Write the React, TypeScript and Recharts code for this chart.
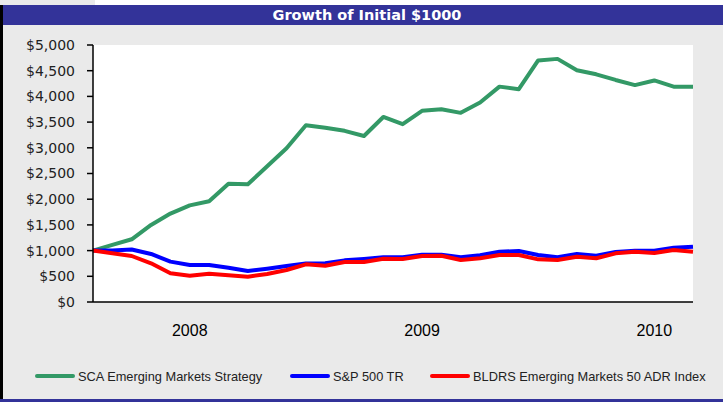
import React from 'react';
import { LineChart, Line, XAxis, YAxis, CartesianGrid } from 'recharts';

// monthly points, Aug 2007 .. Mar 2010
const months = [
  '2007-08', '2007-09', '2007-10', '2007-11', '2007-12',
  '2008-01', '2008-02', '2008-03', '2008-04', '2008-05', '2008-06',
  '2008-07', '2008-08', '2008-09', '2008-10', '2008-11', '2008-12',
  '2009-01', '2009-02', '2009-03', '2009-04', '2009-05', '2009-06',
  '2009-07', '2009-08', '2009-09', '2009-10', '2009-11', '2009-12',
  '2010-01', '2010-02', '2010-03',
];

const scaStrategy = [
  1000, 1110, 1220, 1500, 1720, 1880, 1960, 2300, 2290, 2640, 2990,
  3440, 3390, 3330, 3230, 3600, 3460, 3720, 3750, 3680, 3880, 4190,
  4140, 4700, 4730, 4510, 4430, 4320, 4220, 4310, 4190, 4190,
];

const sp500 = [
  1000, 1000, 1020, 935, 785, 720, 720, 668, 603, 648, 700,
  750, 752, 810, 836, 869, 869, 920, 920, 869, 908, 979,
  992, 914, 869, 934, 901, 973, 998, 998, 1056, 1076,
];

const bldrs = [
  1000, 947, 895, 752, 558, 512, 551, 519, 492, 545, 622,
  733, 706, 778, 778, 843, 835, 895, 901, 817, 850, 914,
  914, 830, 817, 882, 850, 947, 979, 953, 1012, 979,
];

const yearTicks = ['2008-01', '2009-01', '2010-01'];
const valueTicks = [0, 500, 1000, 1500, 2000, 2500, 3000, 3500, 4000, 4500, 5000];

const seriesNames = ['SCA Emerging Markets Strategy', 'S&P 500 TR', 'BLDRS Emerging Markets 50 ADR Index'];
const seriesColors = ['#339966', '#0000FF', '#FF0000'];

const data = months.map((m, i) => ({
  month: m,
  sca: scaStrategy[i],
  sp: sp500[i],
  bldrs: bldrs[i],
}));

const sans = '"Liberation Sans", Arial, sans-serif';
const verdana = '"DejaVu Sans", Verdana, sans-serif';

const formatDollar = (v: number) => `$${v.toLocaleString('en-US')}`;

export default function App() {
  const legendLefts = [35, 290, 430];
  return (
    <div style={{ position: 'absolute', left: 0, top: 0, width: 723, height: 402, background: '#fff', overflow: 'hidden' }}>
      {/* gray panel */}
      <div style={{ position: 'absolute', left: 0, top: 5, width: 723, height: 397, background: '#EAEAEA' }} />
      <div style={{ position: 'absolute', left: 0, top: 0, width: 95, height: 5, background: '#EAEAEA' }} />
      {/* left border + bottom line */}
      <div style={{ position: 'absolute', left: 0, top: 5, width: 3, height: 396, background: '#000' }} />
      <div style={{ position: 'absolute', left: 0, top: 399, width: 723, height: 3, background: '#333399' }} />
      {/* title bar */}
      <div style={{
        position: 'absolute', left: 3, top: 5, width: 720, height: 20, background: '#333399',
        color: '#fff', fontFamily: verdana, fontWeight: 'bold', fontSize: 14.5, lineHeight: '20px',
        textAlign: 'center', boxSizing: 'border-box', paddingLeft: 8,
      }}>
        Growth of Initial $1000
      </div>

      <div style={{ position: 'absolute', left: 0, top: 0 }}>
        <LineChart width={723} height={402} data={data} margin={{ top: 45, right: 30, left: 0, bottom: 60 }}>
          <CartesianGrid fill="#fff" horizontal={false} vertical={false} />
          <XAxis
            dataKey="month"
            ticks={yearTicks}
            interval={0}
            tickFormatter={(v: string) => v.slice(0, 4)}
            tickLine={false}
            axisLine={{ stroke: '#000', strokeWidth: 1.5 }}
            tick={{ fill: '#000', fontSize: 16, fontFamily: sans }}
            tickMargin={17}
            height={40}
          />
          <XAxis xAxisId="top" dataKey="month" orientation="top" height={0} tick={false} tickLine={false}
            axisLine={{ stroke: '#888', strokeWidth: 2 }} />
          <YAxis
            domain={[0, 5000]}
            ticks={valueTicks}
            interval={0}
            tickFormatter={formatDollar}
            width={93}
            tickSize={6}
            tickMargin={12}
            axisLine={{ stroke: '#000', strokeWidth: 1.5 }}
            tickLine={{ stroke: '#000', strokeWidth: 1.5 }}
            tick={{ fill: '#222', fontSize: 14, fontFamily: verdana }}
          />
          <YAxis yAxisId="right" orientation="right" width={0} tick={false} tickLine={false}
            axisLine={{ stroke: '#888', strokeWidth: 2 }} />
          <Line dataKey="sca" name={seriesNames[0]} stroke={seriesColors[0]} strokeWidth={4} dot={false}
            type="linear" strokeLinejoin="round" isAnimationActive={false} />
          <Line dataKey="sp" name={seriesNames[1]} stroke={seriesColors[1]} strokeWidth={4} dot={false}
            type="linear" strokeLinejoin="round" isAnimationActive={false} />
          <Line dataKey="bldrs" name={seriesNames[2]} stroke={seriesColors[2]} strokeWidth={4} dot={false}
            type="linear" strokeLinejoin="round" isAnimationActive={false} />
        </LineChart>
      </div>

      {/* legend */}
      {seriesNames.map((name, i) => (
        <div key={name} style={{ position: 'absolute', left: legendLefts[i], top: 367, height: 18, display: 'flex', alignItems: 'center' }}>
          <span style={{ display: 'inline-block', width: 40, height: 4, borderRadius: 2, background: seriesColors[i], marginRight: 3 }} />
          <span style={{ fontFamily: sans, fontSize: 12.8, color: '#222', whiteSpace: 'nowrap' }}>{name}</span>
        </div>
      ))}
    </div>
  );
}
